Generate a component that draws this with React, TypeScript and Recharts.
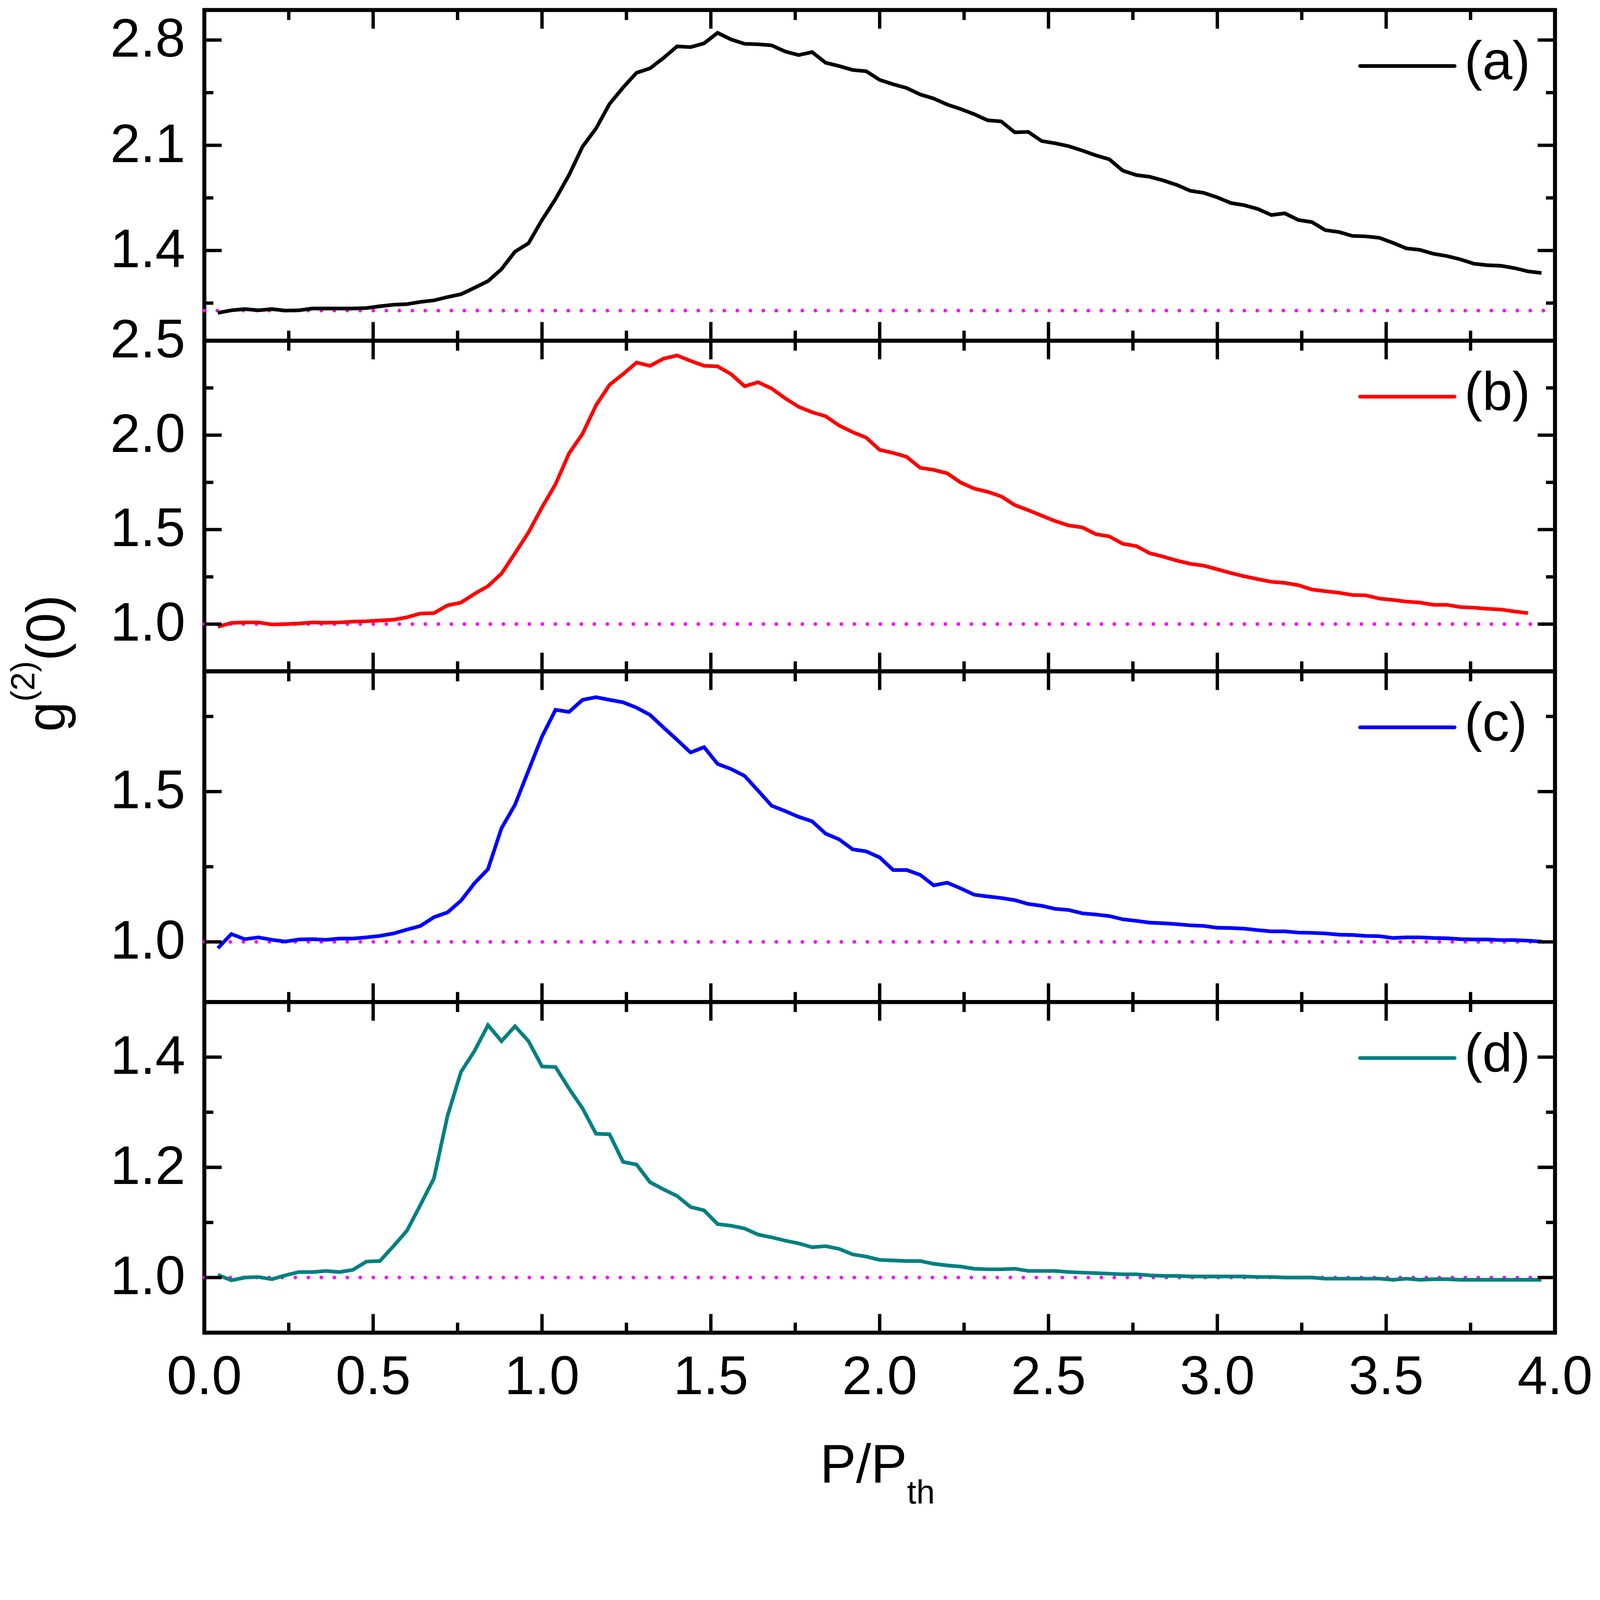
import React from "react";
import {
  LineChart,
  Line,
  XAxis,
  YAxis,
  ReferenceLine,
  ReferenceArea,
  Legend,
  Label,
} from "recharts";

// P/Pth sampling (shared by all four panels)
const pumpRatio = [
  0.04, 0.08, 0.12, 0.16, 0.2, 0.24, 0.28, 0.32, 0.36, 0.4,
  0.44, 0.48, 0.52, 0.56, 0.6, 0.64, 0.68, 0.72, 0.76, 0.8,
  0.84, 0.88, 0.92, 0.96, 1.0, 1.04, 1.08, 1.12, 1.16, 1.2,
  1.24, 1.28, 1.32, 1.36, 1.4, 1.44, 1.48, 1.52, 1.56, 1.6,
  1.64, 1.68, 1.72, 1.76, 1.8, 1.84, 1.88, 1.92, 1.96, 2.0,
  2.04, 2.08, 2.12, 2.16, 2.2, 2.24, 2.28, 2.32, 2.36, 2.4,
  2.44, 2.48, 2.52, 2.56, 2.6, 2.64, 2.68, 2.72, 2.76, 2.8,
  2.84, 2.88, 2.92, 2.96, 3.0, 3.04, 3.08, 3.12, 3.16, 3.2,
  3.24, 3.28, 3.32, 3.36, 3.4, 3.44, 3.48, 3.52, 3.56, 3.6,
  3.64, 3.68, 3.72, 3.76, 3.8, 3.84, 3.88, 3.92, 3.96,
];

const g2A = [
  0.985, 1.002, 1.010, 1.002, 1.010, 1.000, 1.002, 1.014, 1.014, 1.014,
  1.014, 1.017, 1.029, 1.039, 1.043, 1.058, 1.068, 1.090, 1.109, 1.152,
  1.196, 1.276, 1.392, 1.448, 1.603, 1.742, 1.902, 2.091, 2.212, 2.375,
  2.484, 2.582, 2.612, 2.681, 2.758, 2.753, 2.778, 2.848, 2.804, 2.775,
  2.772, 2.765, 2.724, 2.700, 2.720, 2.649, 2.627, 2.601, 2.593, 2.535,
  2.506, 2.481, 2.438, 2.411, 2.371, 2.341, 2.307, 2.266, 2.259, 2.186,
  2.189, 2.128, 2.113, 2.094, 2.065, 2.033, 2.007, 1.931, 1.902, 1.890,
  1.866, 1.836, 1.797, 1.783, 1.753, 1.716, 1.701, 1.676, 1.636, 1.647,
  1.603, 1.589, 1.535, 1.523, 1.497, 1.494, 1.484, 1.451, 1.414, 1.404,
  1.378, 1.363, 1.341, 1.312, 1.302, 1.298, 1.283, 1.261, 1.250,
];

const g2B = [
  0.986, 1.006, 1.009, 1.009, 0.998, 1.000, 1.003, 1.009, 1.007, 1.009,
  1.013, 1.015, 1.019, 1.023, 1.036, 1.056, 1.058, 1.099, 1.114, 1.160,
  1.201, 1.267, 1.375, 1.485, 1.618, 1.740, 1.903, 2.007, 2.158, 2.266,
  2.323, 2.384, 2.367, 2.405, 2.422, 2.393, 2.367, 2.364, 2.323, 2.259,
  2.280, 2.247, 2.195, 2.150, 2.121, 2.100, 2.051, 2.016, 1.987, 1.922,
  1.906, 1.885, 1.827, 1.816, 1.798, 1.749, 1.717, 1.700, 1.676, 1.630,
  1.603, 1.574, 1.545, 1.522, 1.512, 1.476, 1.464, 1.425, 1.413, 1.375,
  1.357, 1.336, 1.319, 1.309, 1.290, 1.270, 1.253, 1.238, 1.224, 1.218,
  1.206, 1.183, 1.174, 1.166, 1.154, 1.152, 1.135, 1.128, 1.119, 1.114,
  1.102, 1.102, 1.090, 1.087, 1.081, 1.077, 1.067, 1.058, null,
];

const g2C = [
  0.979, 1.026, 1.009, 1.015, 1.007, 1.001, 1.008, 1.009, 1.007, 1.011,
  1.011, 1.015, 1.020, 1.028, 1.041, 1.053, 1.082, 1.098, 1.137, 1.195,
  1.242, 1.378, 1.456, 1.570, 1.683, 1.772, 1.765, 1.805, 1.814, 1.805,
  1.797, 1.779, 1.755, 1.713, 1.672, 1.630, 1.648, 1.592, 1.575, 1.552,
  1.503, 1.453, 1.435, 1.416, 1.401, 1.360, 1.341, 1.308, 1.301, 1.281,
  1.239, 1.239, 1.223, 1.188, 1.197, 1.178, 1.157, 1.151, 1.146, 1.139,
  1.126, 1.120, 1.110, 1.106, 1.095, 1.091, 1.086, 1.075, 1.070, 1.064,
  1.062, 1.059, 1.055, 1.053, 1.047, 1.046, 1.044, 1.039, 1.035, 1.035,
  1.031, 1.030, 1.028, 1.024, 1.023, 1.020, 1.019, 1.013, 1.015, 1.015,
  1.013, 1.012, 1.009, 1.008, 1.008, 1.006, 1.006, 1.004, 1.001,
];

const g2D = [
  1.005, 0.995, 1.000, 1.001, 0.997, 1.004, 1.010, 1.010, 1.012, 1.010,
  1.014, 1.029, 1.030, 1.057, 1.085, 1.132, 1.180, 1.293, 1.373, 1.411,
  1.458, 1.429, 1.456, 1.429, 1.383, 1.382, 1.343, 1.307, 1.261, 1.260,
  1.210, 1.205, 1.173, 1.160, 1.148, 1.128, 1.122, 1.097, 1.094, 1.089,
  1.078, 1.073, 1.067, 1.062, 1.055, 1.057, 1.052, 1.042, 1.038, 1.032,
  1.031, 1.030, 1.030, 1.025, 1.022, 1.020, 1.016, 1.015, 1.015, 1.016,
  1.012, 1.012, 1.012, 1.010, 1.009, 1.008, 1.007, 1.006, 1.006, 1.004,
  1.003, 1.003, 1.002, 1.002, 1.002, 1.002, 1.002, 1.001, 1.001, 1.000,
  1.000, 1.000, 0.998, 0.998, 0.998, 0.998, 0.998, 0.996, 0.998, 0.996,
  0.997, 0.997, 0.996, 0.996, 0.996, 0.996, 0.996, 0.996, 0.996,
];

const xTicks = [0, 0.25, 0.5, 0.75, 1, 1.25, 1.5, 1.75, 2, 2.25, 2.5, 2.75, 3, 3.25, 3.5, 3.75, 4];

const yTicksA = [1.05, 1.4, 1.75, 2.1, 2.45, 2.8];
const yLabelsA = [1.4, 2.1, 2.8];
const yTicksB = [1.0, 1.25, 1.5, 1.75, 2.0, 2.25, 2.5];
const yLabelsB = [1.0, 1.5, 2.0, 2.5];
const yTicksC = [1.0, 1.25, 1.5, 1.75];
const yLabelsC = [1.0, 1.5];
const yTicksD = [1.0, 1.1, 1.2, 1.3, 1.4];
const yLabelsD = [1.0, 1.2, 1.4];

const rows = pumpRatio.map((p, i) => ({
  p,
  a: g2A[i],
  b: g2B[i],
  c: g2C[i],
  d: g2D[i],
}));

const panels = [
  { key: "a", name: "(a)", color: "#000000", domain: [0.8, 3.0], ticks: yTicksA, labels: yLabelsA, top: 30 },
  { key: "b", name: "(b)", color: "#ff0000", domain: [0.75, 2.5], ticks: yTicksB, labels: yLabelsB, top: 1022 },
  { key: "c", name: "(c)", color: "#0000ff", domain: [0.8, 1.9], ticks: yTicksC, labels: yLabelsC, top: 2014 },
  { key: "d", name: "(d)", color: "#008080", domain: [0.9, 1.5], ticks: yTicksD, labels: yLabelsD, top: 3006 },
];

const FONT = "'Liberation Sans', Arial, Helvetica, sans-serif";
const PAGE_W = 4800;
const PAGE_H = 4542;
const PLOT_LEFT = 613;
const PLOT_RIGHT = 4665;
const PLOT_H = 992;
const PAD = 300;
const BOTTOM_PAD_LAST = 560;

const near = (v: number, list: number[]) => list.some((t) => Math.abs(t - v) < 1e-6);

const makeXTick = (showLabels: boolean) => (props: any) => {
  const { x, y, payload } = props;
  const v = payload.value;
  const major = Math.abs(v * 2 - Math.round(v * 2)) < 1e-6;
  const len = major ? 56 : 30;
  return (
    <g>
      <line x1={x} y1={y} x2={x} y2={y - len} stroke="#000" strokeWidth={10} />
      <line x1={x} y1={y - PLOT_H} x2={x} y2={y - PLOT_H + len} stroke="#000" strokeWidth={10} />
      {showLabels && major && (
        <text x={x} y={y + 185} textAnchor="middle" fontSize={162} fontFamily={FONT} fill="#000">
          {v.toFixed(1)}
        </text>
      )}
    </g>
  );
};

const makeYTick = (labels: number[]) => (props: any) => {
  const { y, payload } = props;
  const v = payload.value;
  const major = near(v, labels);
  const len = major ? 52 : 27;
  return (
    <g>
      <line x1={PLOT_LEFT} y1={y} x2={PLOT_LEFT + len} y2={y} stroke="#000" strokeWidth={10} />
      <line x1={PLOT_RIGHT} y1={y} x2={PLOT_RIGHT - len} y2={y} stroke="#000" strokeWidth={10} />
      {major && (
        <text x={556} y={y + 50} textAnchor="end" fontSize={162} fontFamily={FONT} fill="#000">
          {v.toFixed(1)}
        </text>
      )}
    </g>
  );
};

const renderLegend = (props: any) => {
  const item = props.payload && props.payload[0];
  if (!item) return null;
  return (
    <svg width={700} height={220} style={{ overflow: "visible" }}>
      <line x1={20} y1={70} x2={304} y2={70} stroke={item.color} strokeWidth={11} strokeLinecap="round" />
      <text x={333} y={110} fontSize={162} fontFamily={FONT} fill="#000">
        {item.value}
      </text>
    </svg>
  );
};

const renderXTitle = () => (
  <text x={2460} y={PAD + PLOT_H + 449} fontSize={162} fontFamily={FONT} fill="#000">
    <tspan>P/P</tspan>
    <tspan dy={63} fontSize={100}>th</tspan>
  </text>
);

// y title lives in panel (b); its centre sits near the (b)/(c) boundary
const renderYTitle = () => {
  const cx = 193;
  const cy = 1990 - (1022 - PAD);
  return (
    <text
      x={cx}
      y={cy}
      transform={`rotate(-90, ${cx}, ${cy})`}
      textAnchor="middle"
      fontSize={162}
      fontFamily={FONT}
      fill="#000"
    >
      <tspan>g</tspan>
      <tspan dy={-90} fontSize={100}>(2)</tspan>
      <tspan dy={90} fontSize={162}>(0)</tspan>
    </text>
  );
};

const App: React.FC = () => {
  // the visible viewport can be narrower than the nominal 4800px, so fit the drawing to it
  const vw = typeof window !== "undefined" && window.innerWidth ? window.innerWidth : PAGE_W;
  const scale = Math.min(vw / PAGE_W, 1);

  return (
    <div
      style={{
        position: "absolute",
        left: 0,
        top: 0,
        width: PAGE_W * scale,
        height: PAGE_H * scale,
        overflow: "hidden",
        background: "#fff",
      }}
    >
      <div
        style={{
          position: "absolute",
          left: 0,
          top: 0,
          width: PAGE_W,
          height: PAGE_H,
          transform: `scale(${scale})`,
          transformOrigin: "0 0",
        }}
      >
        {panels.map((panel, idx) => {
          const last = idx === panels.length - 1;
          const bottomPad = last ? BOTTOM_PAD_LAST : PAD;
          return (
            <div key={panel.key} style={{ position: "absolute", left: 0, top: panel.top - PAD }}>
              <LineChart
                width={PAGE_W}
                height={PAD + PLOT_H + bottomPad}
                data={rows}
                margin={{ top: PAD, right: PAGE_W - PLOT_RIGHT, bottom: 0, left: 0 }}
              >
                <XAxis
                  type="number"
                  dataKey="p"
                  domain={[0, 4]}
                  ticks={xTicks}
                  interval={0}
                  allowDataOverflow
                  height={bottomPad}
                  axisLine={false}
                  tickLine={false}
                  tickSize={0}
                  tickMargin={0}
                  tick={makeXTick(last)}
                >
                  {last && <Label content={renderXTitle} />}
                </XAxis>
                <YAxis
                  type="number"
                  domain={panel.domain}
                  ticks={panel.ticks}
                  interval={0}
                  allowDataOverflow
                  width={PLOT_LEFT}
                  axisLine={false}
                  tickLine={false}
                  tickSize={0}
                  tickMargin={0}
                  tick={makeYTick(panel.labels)}
                >
                  {panel.key === "b" && <Label content={renderYTitle} />}
                </YAxis>
                <ReferenceArea
                  x1={0}
                  x2={4}
                  y1={panel.domain[0]}
                  y2={panel.domain[1]}
                  fill="none"
                  stroke="#000"
                  strokeWidth={12}
                  ifOverflow="visible"
                />
                <ReferenceLine
                  y={1}
                  stroke="#ff00ff"
                  strokeWidth={11}
                  strokeDasharray="0 39"
                  strokeLinecap="round"
                />
                <Legend
                  layout="vertical"
                  verticalAlign="middle"
                  align="center"
                  content={renderLegend}
                  wrapperStyle={{ position: "absolute", left: 4060, top: PAD + 168 - 70, width: 700, height: 220 }}
                />
                <Line
                  type="linear"
                  dataKey={panel.key}
                  name={panel.name}
                  stroke={panel.color}
                  strokeWidth={11}
                  dot={false}
                  activeDot={false}
                  isAnimationActive={false}
                />
              </LineChart>
            </div>
          );
        })}
      </div>
    </div>
  );
};

export default App;
